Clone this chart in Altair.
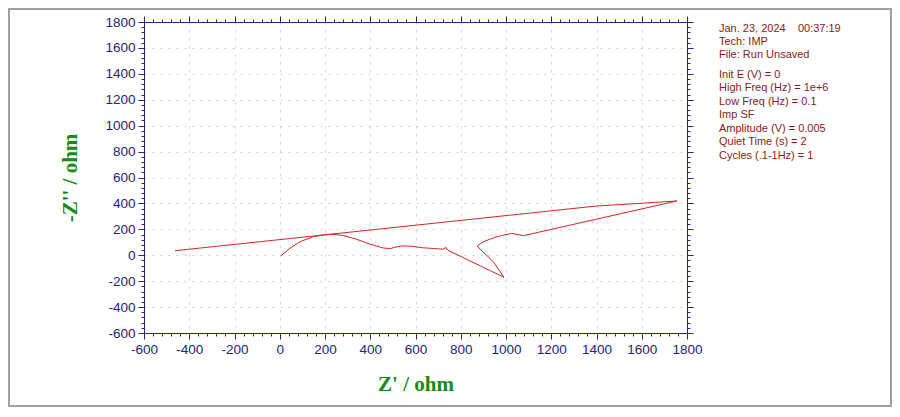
import altair as alt
import pandas as pd

# Nyquist trace (Z' , -Z''), in drawing order
z_real = [5, 45, 90, 148, 192, 235, 281, 340, 400, 460, 490, 510, 540, 580,
          630, 680, 720, 735, 742, 991, 944, 872, 900, 959, 1025, 1039, 1077,
          1756, 1561, 1400, -463]
z_imag = [-5, 54, 105, 143, 156, 162, 152, 123, 85, 55, 52, 62, 72, 70,
          58, 52, 46, 60, 40, -170, -50, 70, 105, 143, 169, 164, 151,
          419, 397, 380, 35]

info_head = ["Jan. 23, 2024\u00a0\u00a0\u00a0\u00a000:37:19", "Tech: IMP", "File: Run Unsaved"]
info_params = ["Init E (V) = 0", "High Freq (Hz) = 1e+6", "Low Freq (Hz) = 0.1",
               "Imp SF", "Amplitude (V) = 0.005", "Quiet Time (s) = 2",
               "Cycles (.1-1Hz) = 1"]

axis_min, axis_max = -600, 1800
tick_values = list(range(axis_min, axis_max + 1, 40))

df = pd.DataFrame({"zr": z_real, "zi": z_imag, "i": range(len(z_real))})

W, H = 543, 311
PAD = {"left": 136, "top": 14, "right": 205, "bottom": 74}

navy = "#24247a"
green = "#178a17"
major = "datum.value % 200 === 0"

def main_axis(title, orient, tpad):
    return alt.Axis(
        title=title, orient=orient, values=tick_values,
        labelExpr=f"{major} ? '' + datum.value : ''",
        labelOverlap=False, labelFlush=False,
        tickSize={"condition": {"test": major, "value": 6}, "value": 3},
        grid=True,
        gridOpacity={"condition": {"test": major, "value": 1}, "value": 0},
        gridColor="#cdcdcd", gridDash=[2, 6],
        domainColor=navy, tickColor=navy, labelColor=navy,
        labelFont="Liberation Sans", labelFontSize=13.5,
        titleFont="Liberation Serif", titleFontSize=21, titleFontWeight="bold",
        titleColor=green, titlePadding=tpad, labelPadding=3,
    )

def side_axis(orient):
    return alt.Axis(
        title=None, orient=orient, values=tick_values, labels=False, grid=False,
        tickSize={"condition": {"test": major, "value": 6}, "value": 3},
        domainColor=navy, tickColor=navy,
    )

xs = alt.Scale(domain=[axis_min, axis_max], nice=False, zero=False)
ys = alt.Scale(domain=[axis_min, axis_max], nice=False, zero=False)

line = alt.Chart(df).mark_line(color="#d02828", strokeWidth=1).encode(
    x=alt.X("zr:Q", scale=xs, axis=main_axis("Z' / ohm", "bottom", 18)),
    y=alt.Y("zi:Q", scale=ys, axis=main_axis("-Z'' / ohm", "left", 24)),
    order="i:Q",
)

frame_axes = alt.Chart(df).mark_point(opacity=0).encode(
    x=alt.X("zr:Q", scale=xs, axis=side_axis("top")),
    y=alt.Y("zi:Q", scale=ys, axis=side_axis("right")),
)

txt_style = dict(align="left", baseline="middle", font="Liberation Sans",
                 fontSize=11, color="#861c1c")
head = alt.Chart(pd.DataFrame({"a": [0]})).mark_text(
    text=info_head, lineHeight=13.4, **txt_style
).encode(x=alt.value(575), y=alt.value(6.5))
params = alt.Chart(pd.DataFrame({"a": [0]})).mark_text(
    text=info_params, lineHeight=13.55, **txt_style
).encode(x=alt.value(575), y=alt.value(52.5))

border = alt.Chart(pd.DataFrame({"a": [0]})).mark_rect(
    fillOpacity=0, stroke="#a0a0a0", strokeWidth=2
).encode(x=alt.value(-135), x2=alt.value(W + PAD["right"] - 1),
         y=alt.value(-13), y2=alt.value(H + PAD["bottom"] - 1))

chart = alt.layer(line, frame_axes, head, params, border).resolve_axis(
    x="independent", y="independent"
).properties(
    width=W, height=H, padding=PAD,
    autosize=alt.AutoSizeParams(type="none"),
    background="white",
).configure_view(stroke=None)

chart.save("out.html", embed_options={"renderer": "svg", "actions": False})
